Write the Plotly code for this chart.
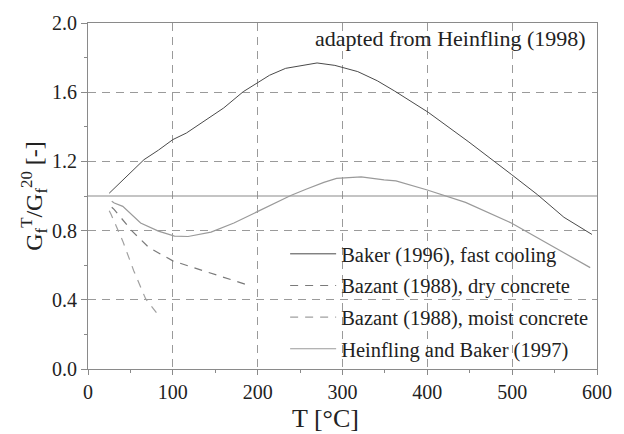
import plotly.graph_objects as go

# Baker (1996), fast cooling
baker_T = [25, 43, 66, 83, 100, 116, 139, 160, 183, 200, 214, 233, 253, 270, 291, 318, 341, 361, 401, 449, 499, 530, 561, 594]
baker_G = [1.016, 1.10, 1.21, 1.265, 1.326, 1.364, 1.44, 1.509, 1.603, 1.656, 1.698, 1.738, 1.757, 1.769, 1.755, 1.719, 1.666, 1.608, 1.484, 1.312, 1.125, 1.007, 0.877, 0.778]

# Bazant (1988), dry concrete
dry_T = [28, 31, 52, 72, 100, 133, 164, 191]
dry_G = [0.935, 0.921, 0.797, 0.701, 0.625, 0.573, 0.525, 0.481]

# Bazant (1988), moist concrete
moist_T = [25, 27, 41, 54, 68, 81]
moist_G = [0.915, 0.896, 0.739, 0.567, 0.405, 0.323]

# Heinfling and Baker (1997)
hb_T = [28, 31, 41, 62, 83, 102, 118, 145, 172, 201, 224, 239, 257, 278, 293, 322, 349, 363, 399, 445, 499, 542, 592]
hb_G = [0.97, 0.959, 0.94, 0.844, 0.797, 0.768, 0.766, 0.791, 0.844, 0.911, 0.968, 1.003, 1.039, 1.079, 1.102, 1.11, 1.093, 1.087, 1.036, 0.963, 0.844, 0.724, 0.586]

REF_LEVEL = 1.0
X_RANGE = [0, 600]
Y_RANGE = [0, 2]

names = ["Baker (1996), fast cooling", "Bazant (1988), dry concrete",
         "Bazant (1988), moist concrete", "Heinfling and Baker (1997)"]

FONT = "Liberation Serif"
TXT = "#222222"
AX = "#8a8a8a"

fig = go.Figure()
fig.add_trace(go.Scatter(x=X_RANGE, y=[REF_LEVEL, REF_LEVEL], mode="lines",
                         line=dict(color=AX, width=1.2), showlegend=False, hoverinfo="skip"))
fig.add_trace(go.Scatter(x=baker_T, y=baker_G, mode="lines", name=names[0], legendgroup="a",
                         line=dict(color="#4a4a4a", width=1)))
fig.add_trace(go.Scatter(x=dry_T, y=dry_G, mode="lines", name=names[1], legendgroup="b",
                         line=dict(color="#7a7a7a", width=1.2, dash="8px,7px")))
fig.add_trace(go.Scatter(x=moist_T, y=moist_G, mode="lines", name=names[2], legendgroup="c",
                         line=dict(color="#a0a0a0", width=1.2, dash="8px,7px")))
fig.add_trace(go.Scatter(x=hb_T, y=hb_G, mode="lines", name=names[3], legendgroup="d",
                         line=dict(color="#9a9a9a", width=1.2)))

axis_common = dict(
    showline=True, linecolor=AX, linewidth=1.2, mirror=True,
    showgrid=True, gridcolor="#9a9a9a", gridwidth=1, griddash="8px,6px",
    zeroline=False, ticks="outside", tickcolor=AX,
    tickfont=dict(family=FONT, size=20, color=TXT),
)

fig.update_xaxes(range=X_RANGE, dtick=100, tick0=0, ticklen=5,
                 minor=dict(dtick=50, ticks="outside", ticklen=3, tickcolor=AX, showgrid=False),
                 **axis_common)
fig.update_yaxes(range=Y_RANGE, dtick=0.4, tick0=0, tickformat=".1f", ticklen=6,
                 minor=dict(dtick=0.2, ticks="outside", ticklen=3, tickcolor=AX, showgrid=False),
                 title=dict(text="G<sub>f</sub><sup>T</sup>/G<sub>f</sub><sup>20</sup> [-]",
                            font=dict(family=FONT, size=24, color=TXT), standoff=2),
                 **axis_common)

# x-axis title (slightly left of centre, as in the original)
fig.add_annotation(text="T [°C]", xref="paper", yref="paper",
                   x=0.466, y=-0.143, xanchor="center", yanchor="middle", showarrow=False,
                   font=dict(family=FONT, size=26, color=TXT))

fig.add_annotation(text="adapted from Heinfling (1998)", xref="paper", yref="paper",
                   x=0.983, y=0.997, xanchor="right", yanchor="top", showarrow=False,
                   font=dict(family=FONT, size=22, color=TXT))

# white panel behind the legend: hides the grid but not the curves
fig.add_shape(type="rect", xref="paper", yref="paper", x0=0.364, x1=0.977, y0=0.012, y1=0.352,
              fillcolor="white", line=dict(width=0), layer="between")

fig.update_layout(
    width=624, height=434,
    font=dict(family=FONT, size=20, color=TXT),
    margin=dict(l=88, r=17, t=20, b=65),
    paper_bgcolor="white", plot_bgcolor="white",
    showlegend=True,
    legend=dict(x=0.3873, y=0.0, xanchor="left", yanchor="bottom",
                bgcolor="rgba(0,0,0,0)", borderwidth=0, tracegroupgap=2,
                font=dict(family=FONT, size=20.5, color=TXT),
                itemwidth=46),
)

fig.write_html("out.html")
